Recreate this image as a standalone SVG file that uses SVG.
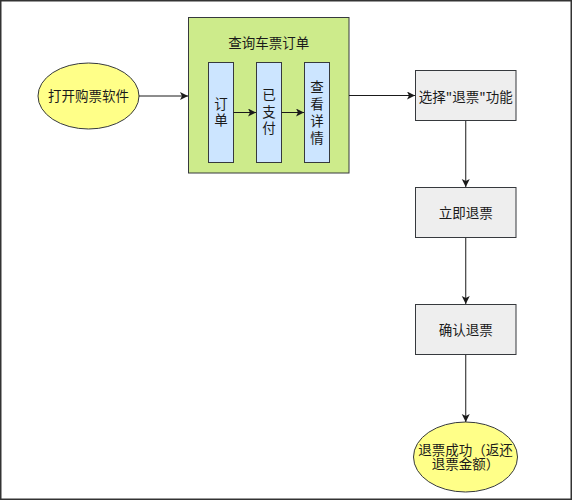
<svg xmlns="http://www.w3.org/2000/svg" width="572" height="500" viewBox="0 0 572 500">
<style>
  text { font-family: "Noto Sans CJK SC", "Liberation Sans", sans-serif; font-size: 13.5px; fill: #1a1a1a; text-anchor: middle; }
  .shape { stroke: #36393d; stroke-width: 1; }
  .yellow { fill: #ffff88; }
  .green { fill: #cdeb8b; }
  .blue { fill: #cce5ff; }
  .grey { fill: #eeeeee; }
  .edge { stroke: #1a1a1a; stroke-width: 1; fill: none; marker-end: url(#arrow); }
</style>
<defs>
  <marker id="arrow" markerUnits="userSpaceOnUse" markerWidth="10" markerHeight="10" refX="8" refY="4" orient="auto">
    <path d="M0,0 L8,4 L0,8 L2,4 Z" fill="#1a1a1a"/>
  </marker>
</defs>
<rect x="0.75" y="0.75" width="570.5" height="498.5" fill="#ffffff" stroke="#333333" stroke-width="1.5"/>

<g id="node-start">
  <ellipse class="shape yellow" cx="88.5" cy="96" rx="50.5" ry="33"/>
  <text x="88.5" y="101">打开购票软件</text>
</g>

<g id="node-query">
  <rect class="shape green" x="188.5" y="17.5" width="160.5" height="155.5"/>
  <text x="268.75" y="47.5">查询车票订单</text>
</g>

<g id="node-order">
  <rect class="shape blue" x="208.5" y="62.5" width="25" height="100"/>
  <text x="221" y="108.5">订<tspan x="221" dy="16.6">单</tspan></text>
</g>

<g id="node-paid">
  <rect class="shape blue" x="256.5" y="62.5" width="25" height="100"/>
  <text x="269" y="100">已<tspan x="269" dy="16.7">支</tspan><tspan x="269" dy="16.7">付</tspan></text>
</g>

<g id="node-detail">
  <rect class="shape blue" x="304.5" y="62.5" width="25" height="100"/>
  <text x="317" y="92.3">查<tspan x="317" dy="16.8">看</tspan><tspan x="317" dy="16.8">详</tspan><tspan x="317" dy="16.8">情</tspan></text>
</g>

<g id="node-select">
  <rect class="shape grey" x="415.5" y="70.5" width="100.5" height="50"/>
  <text x="465.75" y="101.5">选择"退票"功能</text>
</g>

<g id="node-refund">
  <rect class="shape grey" x="415.5" y="187.5" width="100.5" height="50"/>
  <text x="465.75" y="217.5">立即退票</text>
</g>

<g id="node-confirm">
  <rect class="shape grey" x="415.5" y="304.5" width="100.5" height="50"/>
  <text x="465.75" y="334.5">确认退票</text>
</g>

<g id="node-success">
  <ellipse class="shape yellow" cx="465.5" cy="457" rx="52" ry="35"/>
  <text x="465.5" y="455">退票成功（返还<tspan x="465.5" dy="14">退票金额）</tspan></text>
</g>

<g id="connectors">
  <line class="edge" x1="139" y1="96" x2="188" y2="96"/>
  <line class="edge" x1="233.5" y1="112.5" x2="256" y2="112.5"/>
  <line class="edge" x1="281.5" y1="112.5" x2="304" y2="112.5"/>
  <line class="edge" x1="349" y1="95.5" x2="415" y2="95.5"/>
  <line class="edge" x1="465.75" y1="121" x2="465.75" y2="187"/>
  <line class="edge" x1="465.75" y1="238" x2="465.75" y2="304"/>
  <line class="edge" x1="465.75" y1="355" x2="465.75" y2="422"/>
</g>
</svg>
